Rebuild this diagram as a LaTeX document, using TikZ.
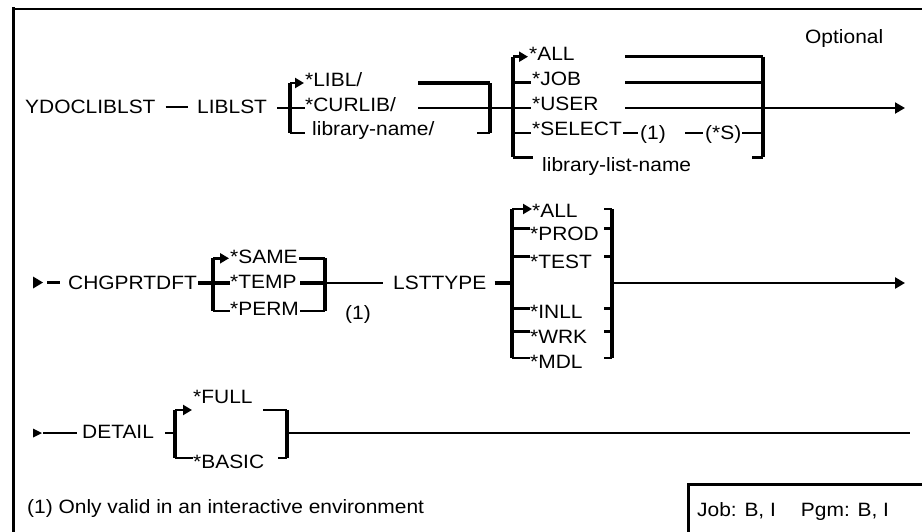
\documentclass[tikz,border=0pt]{standalone}
\usepackage{fontspec}
\setmainfont{Liberation Sans}[FakeStretch=1.085]
\usetikzlibrary{arrows.meta}
\tikzset{
  txt/.style={anchor=base west, inner sep=0pt, text height=13.3pt, text depth=0pt, font=\fontsize{19.3}{23}\selectfont},
  mainln/.style={line width=2pt},
  branch/.style={line width=2.6pt},
  heavy/.style={line width=3.4pt},
  bar/.style={line width=3.6pt},
  tipr/.style={-{Triangle[length=9pt,width=10pt]}},
  tipend/.style={-{Triangle[length=10pt,width=11pt]}},
}
\begin{document}
\begin{tikzpicture}[x=1pt,y=-1pt]
\useasboundingbox (0,0) rectangle (922,531);
\clip (0,0) rectangle (922,531);
% frame
\draw[line width=3.5pt] (13.5,7) -- (13.5,540);
\draw[line width=2pt] (12,8.5) -- (930,8.5);
\node[txt] (opt) at (805,43.3) {Optional};

% ---------- row 1 ----------
\node[txt] (ydoc) at (25,113.3) {YDOCLIBLST};
\node[txt] (liblst) at (197,113.3) {LIBLST};
\draw[mainln] ([xshift=10pt]ydoc.east) -- ([xshift=-9pt]liblst.west);
\coordinate (a1t) at (290,83);
\coordinate (a1m) at (290,107.5);
\coordinate (a1b) at (290,133);
\draw[mainln] ([xshift=10pt]liblst.east |- a1m) -- (a1m);
\draw[bar] (a1t) -- (a1b);
\node[txt] (libl) at (305,86.7) {*LIBL/};
\node[txt] (curlib) at (305,111.7) {*CURLIB/};
\node[txt] (libname) at (312,135) {library-name/};
\draw[branch,tipr] (a1t) -- (304,83);
\draw[mainln] (a1m) -- (305,107.5);
\draw[branch] (a1b) -- (305,133);
\coordinate (b1t) at (490,83);
\coordinate (b1b) at (490,133);
\draw[heavy] (418,83) -- (b1t);
\draw[bar] (b1t) -- (b1b);
\draw[branch] (477,133) -- (b1b);
% second group
\coordinate (c1t) at (513,56.7);
\coordinate (c1b) at (513,157.3);
\draw[mainln] (418,107.5) -- (531,107.5);
\draw[bar] (c1t) -- (c1b);
\node[txt] (all1) at (529,60) {*ALL};
\node[txt] (job) at (532,85) {*JOB};
\node[txt] (user) at (532,110.5) {*USER};
\node[txt] (select) at (532,135.5) {*SELECT};
\node[txt] (liblist) at (542,171) {library-list-name};
\draw[branch,tipr] (c1t) -- (528,56.7);
\draw[heavy] (513,82.7) -- (531,82.7);
\draw[branch] (513,133) -- (531,133);
\draw[heavy] (c1b) -- (533,157.3);
\node[txt] (s1) at (640,139) {(1)};
\node[txt] (s2) at (705,139) {(*S)};
\coordinate (d1t) at (763,56.7);
\coordinate (d1b) at (763,157.3);
\draw[branch] (625,56.7) -- (d1t);
\draw[heavy] (625,82.7) -- (763,82.7);
\draw[mainln,tipend] (625,108) -- (905,108);
\draw[mainln] ([xshift=1pt]select.east |- 0,133) -- ([xshift=-2pt]s1.west |- 0,133);
\draw[mainln] (685,133) -- ([xshift=-2pt]s2.west |- 0,133);
\draw[mainln] ([xshift=1pt]s2.east |- 0,133) -- (763,133);
\draw[bar] (d1t) -- (d1b);
\draw[branch] (752,157.3) -- (d1b);

% ---------- row 2 ----------
\fill (33,276.5) -- (43,282.5) -- (33,288.5) -- cycle;
\draw[heavy] (47,282.5) -- (60,282.5);
\node[txt] (chg) at (68,289) {CHGPRTDFT};
\coordinate (e2t) at (213,258.3);
\coordinate (e2m) at (213,283);
\coordinate (e2b) at (213,311);
\draw[heavy] ([xshift=1pt]chg.east |- e2m) -- (e2m);
\draw[bar] (e2t) -- (e2b);
\node[txt] (same) at (230,263) {*SAME};
\node[txt] (temp) at (230,288) {*TEMP};
\node[txt] (perm) at (230,315) {*PERM};
\draw[branch,tipr] (e2t) -- (229,258.3);
\draw[heavy] (e2m) -- (230,283);
\draw[branch] (e2b) -- (230,311);
\coordinate (f2t) at (325,258.3);
\coordinate (f2m) at (325,283);
\coordinate (f2b) at (325,311);
\draw[branch] (299,258.3) -- (f2t);
\draw[heavy] (300,283) -- (f2m);
\draw[branch] (300,311) -- (f2b);
\draw[bar] (f2t) -- (f2b);
\node[txt] (fn2) at (345,319) {(1)};
\node[txt] (lst) at (393,289.5) {LSTTYPE};
\draw[mainln] (f2m) -- ([xshift=-10pt]lst.west |- f2m);
\coordinate (g2t) at (512,209);
\coordinate (g2m) at (512,283);
\coordinate (g2b) at (512,358);
\draw[heavy] ([xshift=8pt]lst.east |- g2m) -- (g2m);
\draw[bar] (g2t) -- (g2b);
\node[txt] (all2) at (532,217) {*ALL};
\node[txt] (prod) at (530,240.5) {*PROD};
\node[txt] (test) at (530,268) {*TEST};
\node[txt] (inll) at (530,318.5) {*INLL};
\node[txt] (wrk) at (530,343) {*WRK};
\node[txt] (mdl) at (530,368.5) {*MDL};
\draw[branch,tipr] (g2t) -- (532,209);
\foreach \yy in {228.3,256.7,308.3,331.7,358}
  \draw[branch] (512,\yy) -- (530,\yy);
\coordinate (h2t) at (612,209);
\coordinate (h2m) at (612,283);
\coordinate (h2b) at (612,358);
\draw[bar] (h2t) -- (h2b);
\foreach \yy in {209,228.3,256.7,308.3,331.7,358}
  \draw[branch] (604,\yy) -- (612,\yy);
\draw[mainln,line width=2.6pt,tipend] (h2m) -- (905,283);

% ---------- row 3 ----------
\fill (33,428.5) -- (42,433) -- (33,437.5) -- cycle;
\node[txt] (detail) at (82,438.5) {DETAIL};
\draw[mainln] (43,433) -- ([xshift=-5pt]detail.west |- 0,433);
\coordinate (k3t) at (175,410);
\coordinate (k3m) at (175,433);
\coordinate (k3b) at (175,458);
\draw[mainln] (165,433) -- (k3m);
\draw[bar] (k3t) -- (k3b);
\node[txt] (full) at (193,403) {*FULL};
\node[txt] (basic) at (193,468) {*BASIC};
\draw[branch,tipr] (k3t) -- (192,410);
\draw[branch] (k3b) -- (193,458);
\coordinate (m3t) at (287,410);
\coordinate (m3m) at (287,433);
\coordinate (m3b) at (287,458);
\draw[branch] (263,410) -- (m3t);
\draw[branch] (278,458) -- (m3b);
\draw[bar] (m3t) -- (m3b);
\draw[mainln] (m3m) -- (910,433);

% ---------- footer ----------
\node[txt] (note) at (27,513) {(1) Only valid in an interactive environment};
\draw[line width=3pt] (930,484.3) -- (688,484.3) -- (688,540);
\node[txt] (jobbox) at (697,516) {Job: B, I\hspace{25pt}Pgm: B, I};
\end{tikzpicture}
\end{document}
